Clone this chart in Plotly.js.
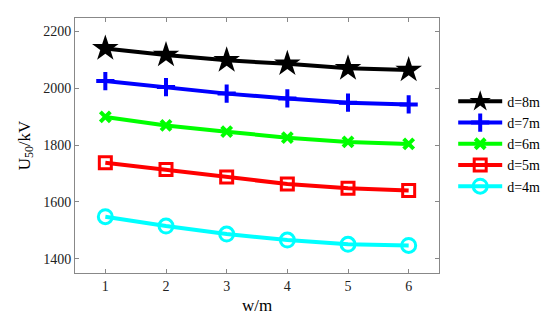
<!DOCTYPE html>
<html><head><meta charset="utf-8">
<script src="https://cdn.plot.ly/plotly-3.0.1.min.js"></script>
<style>html,body{margin:0;padding:0;background:#fff}#c{width:550px;height:326px}</style>
</head><body><div id="c"></div>
<script>
const w = [1, 2, 3, 4, 5, 6];
const d8 = [2140, 2117, 2098, 2086, 2070, 2064];
const d7 = [2025, 2004, 1981, 1964, 1949, 1943];
const d6 = [1899, 1869, 1847, 1826, 1811, 1804];
const d5 = [1738, 1714, 1688, 1663, 1648, 1640];
const d4 = [1548, 1515, 1487, 1466, 1451, 1447];
const names = ['d=8m', 'd=7m', 'd=6m', 'd=5m', 'd=4m'];
const colors = ['#000000', '#0000ff', '#00ff00', '#ff0000', '#00ffff'];
const series = [d8, d7, d6, d5, d4];
const markers = [
  {symbol: 'star', size: 20, color: '#000000', line: {width: 0}},
  {symbol: 'cross-thin', size: 13, color: '#0000ff', line: {width: 4, color: '#0000ff'}},
  {symbol: 'x-thin', size: 10, color: '#00ff00', line: {width: 4, color: '#00ff00'}},
  {symbol: 'square-open', size: 12, color: '#ff0000', line: {width: 3, color: '#ff0000'}},
  {symbol: 'circle-open', size: 14, color: '#00ffff', line: {width: 3, color: '#00ffff'}}
];
const traces = series.map((s, i) => ({
  x: w, y: s, name: names[i], type: 'scatter', mode: 'lines+markers',
  line: {color: colors[i], width: 4},
  marker: markers[i]
}));
const axisCommon = {
  showline: true, linecolor: '#888888', linewidth: 1, mirror: 'ticks',
  ticks: 'inside', ticklen: 4, tickcolor: '#888888', showgrid: false, zeroline: false,
  tickfont: {family: 'Liberation Serif', size: 14, color: '#222'}
};
const layout = {
  width: 550, height: 326,
  margin: {l: 75, r: 111, t: 18, b: 53, autoexpand: false},
  paper_bgcolor: '#fff', plot_bgcolor: '#fff',
  showlegend: true,
  legend: {xref: 'container', yref: 'container', x: 0.824, y: 0.737, xanchor: 'left', yanchor: 'top', itemwidth: 44,
    font: {family: 'Liberation Serif', size: 14, color: '#000'},
    bgcolor: 'rgba(0,0,0,0)', tracegroupgap: 0},
  xaxis: Object.assign({}, axisCommon, {range: [0.5, 6.5], tickvals: w,
    title: {text: 'w/m', font: {family: 'Liberation Serif', size: 17, color: '#000'}, standoff: 6}}),
  yaxis: Object.assign({}, axisCommon, {range: [1350, 2247], tickvals: [1400, 1600, 1800, 2000, 2200],
    title: {text: 'U<sub>50</sub>/kV', font: {family: 'Liberation Serif', size: 17, color: '#000'}, standoff: 8}})
};
Plotly.newPlot('c', traces, layout, {displayModeBar: false, staticPlot: true});
</script></body></html>
